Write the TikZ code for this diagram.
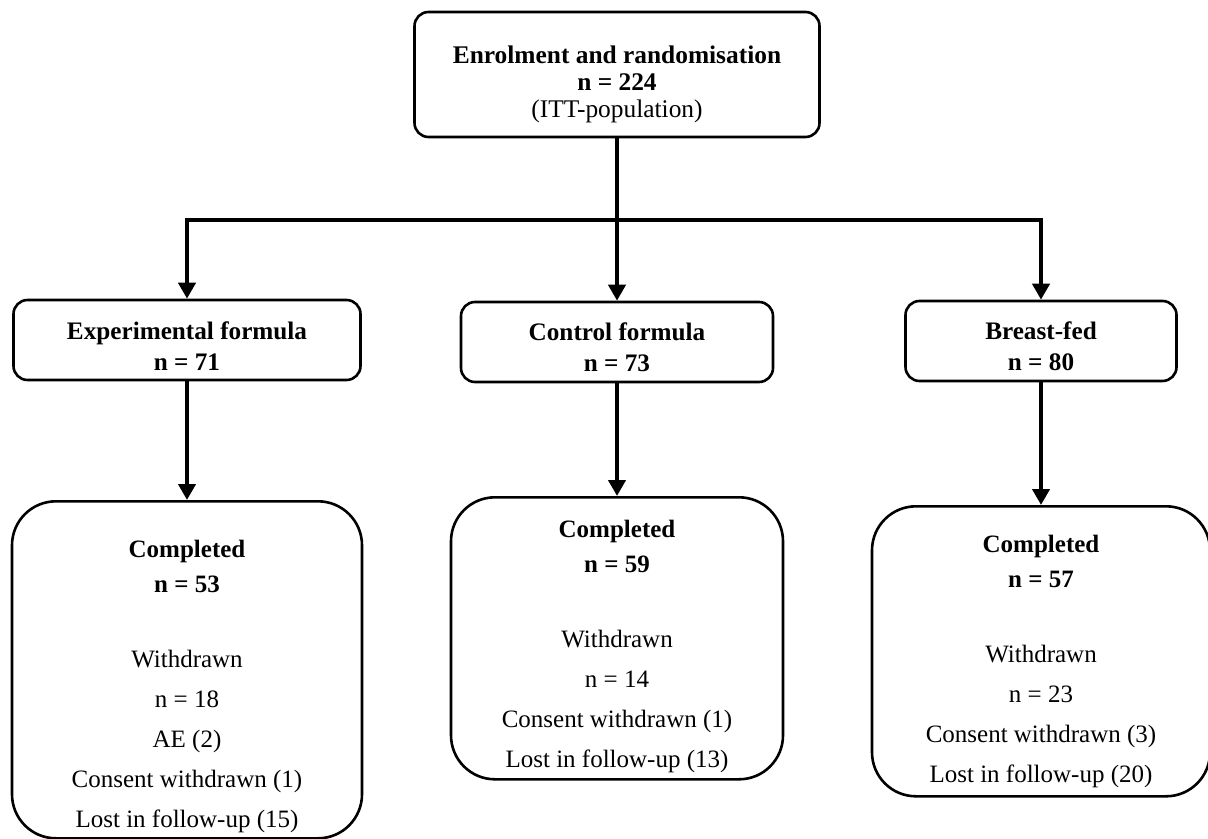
\documentclass[tikz,border=0pt]{standalone}
\usepackage{fontspec}
\setmainfont{Liberation Serif}
\usetikzlibrary{positioning, arrows.meta}
\newcommand{\padtop}[1]{\rule{0pt}{#1}}

\begin{document}
\begin{tikzpicture}[x=0.5pt, y=-0.5pt,
    box/.style={draw, line width=1.3pt, rounded corners=7pt, align=center, inner sep=0pt,
      font=\fontsize{12.6}{15.5}\selectfont},
    groupbox/.style={box, minimum height=40pt},
    donebox/.style={box, rounded corners=22pt, anchor=north,
      font=\fontsize{12.5}{20}\selectfont},
    flow/.style={line width=2pt, -{Triangle[length=8pt, width=8.5pt]}}]
  \useasboundingbox (0,0) rectangle (1208,839);

  \node[box, minimum width=202.5pt, minimum height=62.5pt,
    font=\fontsize{12.7}{13.4}\selectfont] (enrol) at (617,74.5)
    {\padtop{18.5pt}\textbf{Enrolment and randomisation}\\\textbf{n = 224}\\(ITT-population)};

  \node[groupbox, minimum width=173.5pt] (exp) at (187,340)
    {\padtop{15pt}\textbf{Experimental formula}\\\textbf{n = 71}};
  \node[groupbox, minimum width=156pt] (ctrl) at (617,342)
    {\padtop{14pt}\textbf{Control formula}\\\textbf{n = 73}};
  \node[groupbox, minimum width=135.5pt] (breast) at (1041,341)
    {\padtop{14.5pt}\textbf{Breast-fed}\\\textbf{n = 80}};

  \node[donebox, minimum width=175pt, minimum height=168.5pt] (expdone) at (187,500)
    {\padtop{25.5pt}\textbf{Completed}\\[-2.5pt]\textbf{n = 53}\\[17.5pt]Withdrawn\\n = 18\\AE (2)\\
     Consent withdrawn (1)\\Lost in follow-up (15)};
  \node[donebox, minimum width=166pt, minimum height=141pt] (ctrldone) at (617,496)
    {\padtop{16.5pt}\textbf{Completed}\\[-2.5pt]\textbf{n = 59}\\[17.5pt]Withdrawn\\n = 14\\
     Consent withdrawn (1)\\Lost in follow-up (13)};
  \node[donebox, minimum width=169pt, minimum height=145pt] (breastdone) at (1041,505)
    {\padtop{18.5pt}\textbf{Completed}\\[-2.5pt]\textbf{n = 57}\\[17.5pt]Withdrawn\\n = 23\\
     Consent withdrawn (3)\\Lost in follow-up (20)};

  \coordinate (split) at (617,220);
  \draw[line width=2pt] (enrol) -- (split);
  \draw[flow] (split) -| (exp);
  \draw[flow] (split) -| (breast);
  \draw[flow] (split) -- (ctrl);

  \path (exp) edge[flow] (expdone)
    (ctrl) edge[flow] (ctrldone)
    (breast) edge[flow] (breastdone);
\end{tikzpicture}
\end{document}
